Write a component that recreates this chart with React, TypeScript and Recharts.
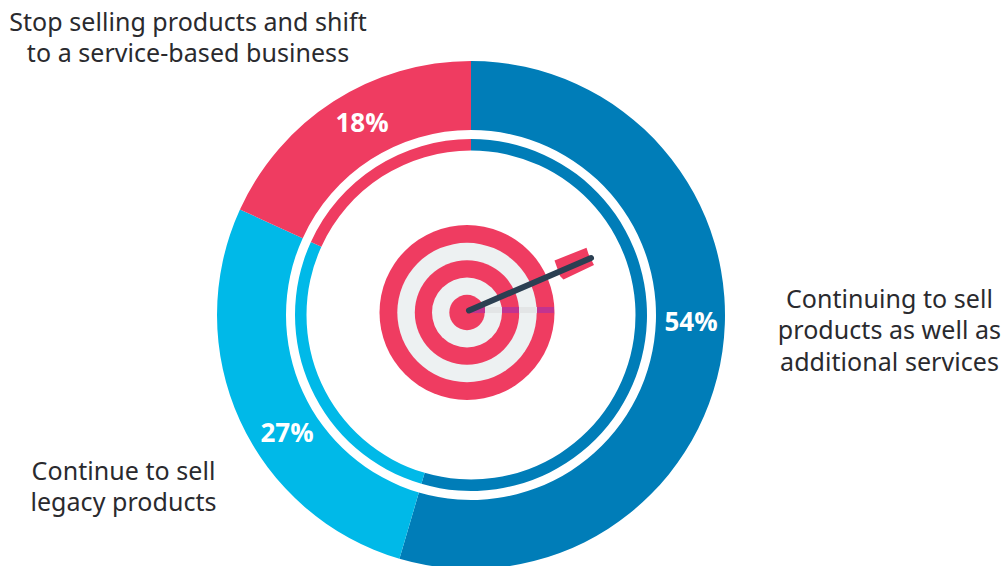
import React from "react";
import { PieChart, Pie, Cell } from "recharts";

const categories = [
  "Continuing to sell products as well as additional services",
  "Continue to sell legacy products",
  "Stop selling products and shift to a service-based business",
];
const values = [54, 27, 18];
const colors = ["#007DB8", "#00B9E8", "#EF3C61"];
const table = categories.map((name, i) => ({ name, value: values[i] }));

const targetRings = [
  { r: 87.5, fill: "#EF3C61" },
  { r: 69.7, fill: "#EDF1F2" },
  { r: 52.2, fill: "#EF3C61" },
  { r: 35, fill: "#EDF1F2" },
  { r: 17.7, fill: "#EF3C61" },
];

const captions = [
  { lines: ["Stop selling products and shift", "to a service-based business"], x: 188, y: [31, 62] },
  { lines: ["Continuing to sell", "products as well as", "additional services"], x: 889.5, y: [308, 339, 370.5] },
  { lines: ["Continue to sell", "legacy products"], x: 123.5, y: [480, 511] },
];
const percentPos = [
  { x: 691, y: 330.5 },
  { x: 287, y: 441.5 },
  { x: 362, y: 131.5 },
];
const shadow = [
  { x: 470, w: 15, fill: "#C2338F" },
  { x: 485, w: 17, fill: "#E3E5E6" },
  { x: 502, w: 17, fill: "#C2338F" },
  { x: 519, w: 18, fill: "#E3E5E6" },
  { x: 537, w: 17, fill: "#C2338F" },
];

const labelFont = "'Noto Sans', 'Open Sans', sans-serif";

const renderPercent = (props: any) => {
  const pos = percentPos[props.index];
  return (
    <text x={pos.x} y={pos.y} textAnchor="middle" fontFamily="'Open Sans', sans-serif" fontWeight={700} fontSize={26} fill="#fff">
      {props.value}%
    </text>
  );
};

export default function App() {
  return (
    <div style={{ position: "absolute", left: 0, top: 0, width: 1003, height: 566, overflow: "hidden", background: "#fff" }}>
      <PieChart width={1003} height={566} margin={{ top: 0, right: 0, bottom: 0, left: 0 }}>
        <Pie data={table} dataKey="value" cx={471} cy={315} innerRadius={185} outerRadius={254} startAngle={90} endAngle={-270} stroke="none" isAnimationActive={false} label={renderPercent} labelLine={false}>
          {table.map((d, i) => <Cell key={d.name} fill={colors[i]} />)}
        </Pie>
        <Pie data={table} dataKey="value" cx={471} cy={315} innerRadius={164.5} outerRadius={176} startAngle={90} endAngle={-270} stroke="none" isAnimationActive={false}>
          {table.map((d, i) => <Cell key={d.name} fill={colors[i]} />)}
        </Pie>
        {targetRings.map((ring) => (
          <circle key={ring.r} cx={467} cy={312.5} r={ring.r} fill={ring.fill} />
        ))}
        {shadow.map((s) => (
          <rect key={s.x} x={s.x} y={307} width={s.w} height={6} fill={s.fill} />
        ))}
        <polygon points="554.5,260.5 586.5,247.7 588.5,254 594,265 563.5,279.5 560,276" fill="#EF3C61" />
        <line x1={469} y1={310.5} x2={591} y2={258} stroke="#2B3F52" strokeWidth={6} strokeLinecap="round" />
        {captions.map((c) =>
          c.lines.map((line, j) => (
            <text key={line} x={c.x} y={c.y[j]} textAnchor="middle" fontFamily={labelFont} fontSize={25} letterSpacing={0.05} fill="#2A2A2E">
              {line}
            </text>
          ))
        )}
      </PieChart>
    </div>
  );
}
